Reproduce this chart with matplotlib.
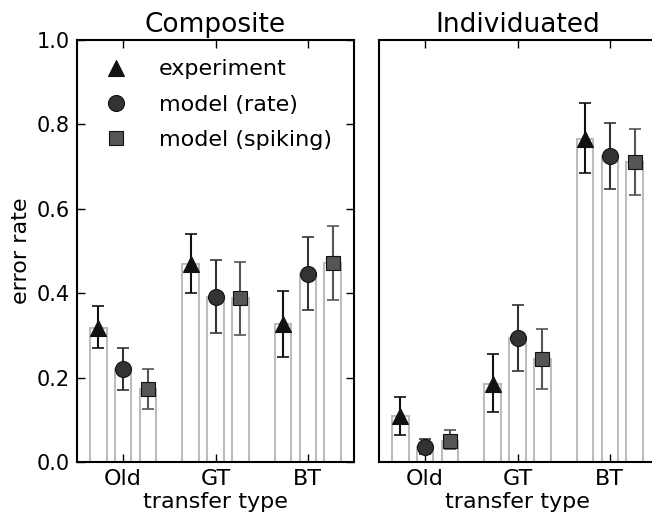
import matplotlib
matplotlib.use("Agg")
import matplotlib.pyplot as plt
import numpy as np

categories = ["Old", "GT", "BT"]
series = ["experiment", "model (rate)", "model (spiking)"]

# Composite
comp_exp = [0.318, 0.470, 0.328]
comp_exp_lo = [0.270, 0.400, 0.250]
comp_exp_hi = [0.370, 0.540, 0.405]
comp_rate = [0.220, 0.391, 0.445]
comp_rate_lo = [0.170, 0.305, 0.360]
comp_rate_hi = [0.270, 0.478, 0.532]
comp_spk = [0.172, 0.388, 0.472]
comp_spk_lo = [0.125, 0.300, 0.385]
comp_spk_hi = [0.220, 0.474, 0.560]

# Individuated
ind_exp = [0.108, 0.185, 0.765]
ind_exp_lo = [0.065, 0.118, 0.685]
ind_exp_hi = [0.155, 0.256, 0.850]
ind_rate = [0.035, 0.295, 0.725]
ind_rate_lo = [0.020, 0.215, 0.648]
ind_rate_hi = [0.055, 0.373, 0.803]
ind_spk = [0.050, 0.243, 0.710]
ind_spk_lo = [0.030, 0.172, 0.632]
ind_spk_hi = [0.075, 0.316, 0.788]

W, H = 652, 518
fig = plt.figure(figsize=(W / 100, H / 100), dpi=100)
axL = fig.add_axes([77 / W, (H - 462) / H, 277 / W, 422 / H])
axR = fig.add_axes([379 / W, (H - 462) / H, 277 / W, 422 / H])

markers = ["^", "o", "s"]
mcolors = ["#111111", "#333333", "#555555"]
msizes = [11.5, 11.5, 10.5]
offsets = [-0.27, 0.0, 0.27]
bw = 0.18

def draw(ax, vals, los, his, title):
    x = np.arange(len(categories))
    for k in range(3):
        v = np.array(vals[k]); lo = np.array(los[k]); hi = np.array(his[k])
        ax.bar(x + offsets[k], v, width=bw, color="white", edgecolor="#bcbcbc",
               linewidth=1.5, zorder=1)
        ax.errorbar(x + offsets[k], v, yerr=[v - lo, hi - v], fmt="none",
                    ecolor=mcolors[k], elinewidth=1.5, capsize=4, capthick=1.2,
                    zorder=2)
        ax.plot(x + offsets[k], v, linestyle="none", marker=markers[k],
                markersize=msizes[k], color=mcolors[k], markeredgecolor="#111111",
                markeredgewidth=0.8, zorder=3, label=series[k])
    ax.set_xlim(-0.5, 2.5)
    ax.set_ylim(0, 1.0)
    ax.set_xticks(x)
    ax.set_xticklabels(categories, fontsize=16)
    ax.set_xlabel("transfer type", fontsize=16, labelpad=2)
    ax.set_title(title, fontsize=19, pad=6)
    ax.tick_params(direction="in", length=6, width=1, top=True, right=True,
                   labelsize=16, pad=5)
    for s in ax.spines.values():
        s.set_linewidth(1.5)

draw(axL, [comp_exp, comp_rate, comp_spk], [comp_exp_lo, comp_rate_lo, comp_spk_lo],
     [comp_exp_hi, comp_rate_hi, comp_spk_hi], "Composite")
draw(axR, [ind_exp, ind_rate, ind_spk], [ind_exp_lo, ind_rate_lo, ind_spk_lo],
     [ind_exp_hi, ind_rate_hi, ind_spk_hi], "Individuated")

axL.set_yticks(np.arange(0, 1.01, 0.2))
axL.set_yticklabels([f"{t:.1f}" for t in np.arange(0, 1.01, 0.2)])
axL.tick_params(axis="y", labelsize=15)
axL.set_ylabel("error rate", fontsize=16, labelpad=4)
axR.set_yticks([])

axL.legend(loc="upper left", frameon=False, fontsize=16, numpoints=1,
           handletextpad=0.9, labelspacing=0.68, borderaxespad=0.0,
           bbox_to_anchor=(0.03, 0.975))

fig.savefig("out.png", dpi=100)
